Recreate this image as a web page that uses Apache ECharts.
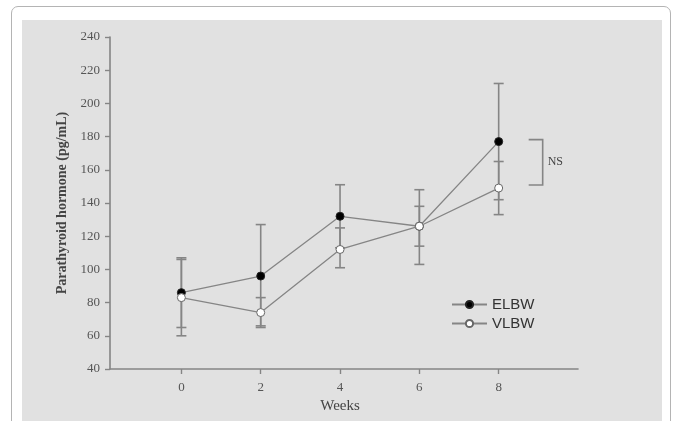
<!DOCTYPE html>
<html>
<head>
<meta charset="utf-8">
<script src="https://cdn.jsdelivr.net/npm/echarts@6/dist/echarts.min.js"></script>
<style>
  html, body { margin: 0; padding: 0; background: #ffffff; }
  #card {
    position: absolute; left: 11px; top: 6px; width: 660px; height: 440px;
    border: 1.5px solid #b4b4b4; border-radius: 7px; box-sizing: border-box;
  }
  #panel {
    position: absolute; left: 22px; top: 20px; width: 640px; height: 420px;
    background: #e1e1e1;
  }
  #chart { position: absolute; left: 0; top: 0; width: 675px; height: 421px; }
</style>
</head>
<body>
<div id="card"></div>
<div id="panel"></div>
<div id="chart"></div>
<script>
// Parathyroid hormone by week, mean with error bars, two birth-weight groups
const weeks = [0, 2, 4, 6, 8];
const xTicks = [0, 2, 4, 6, 8];

const elbwMean = [86, 96, 132, 126, 177];
const elbwLow  = [65, 65, 113, 103, 142];
const elbwHigh = [107, 127, 151, 148, 212];

const vlbwMean = [83, 74, 112, 126, 149];
const vlbwLow  = [60, 66, 101, 114, 133];
const vlbwHigh = [106, 83, 125, 138, 165];

const sigLabel = 'NS';

const serif = '"Liberation Serif", "Times New Roman", serif';
const sans = '"Liberation Sans", Arial, sans-serif';
const gray = '#858585';

function pairs(xs, ys) { return xs.map((x, i) => [x, ys[i]]); }
function bars(xs, lo, hi) { return xs.map((x, i) => [x, lo[i], hi[i]]); }

function errorBar(params, api) {
  const x = api.value(0);
  const top = api.coord([x, api.value(2)]);
  const bot = api.coord([x, api.value(1)]);
  const hw = 5;
  const style = { stroke: gray, lineWidth: 1.6 };
  return {
    type: 'group',
    children: [
      { type: 'line', shape: { x1: top[0], y1: top[1], x2: bot[0], y2: bot[1] }, style },
      { type: 'line', shape: { x1: top[0] - hw, y1: top[1], x2: top[0] + hw, y2: top[1] }, style },
      { type: 'line', shape: { x1: bot[0] - hw, y1: bot[1], x2: bot[0] + hw, y2: bot[1] }, style }
    ]
  };
}

// bracket between the two final means, with its label
function bracket(params, api) {
  const a = api.coord([api.value(0), api.value(1)]);
  const b = api.coord([api.value(0), api.value(2)]);
  const x1 = a[0] + 30, x2 = a[0] + 44;
  const y1 = a[1] - 2, y2 = b[1] - 3;
  return {
    type: 'group',
    children: [
      { type: 'polyline', shape: { points: [[x1, y1], [x2, y1], [x2, y2], [x1, y2]] },
        style: { stroke: gray, lineWidth: 1.6, fill: null } },
      { type: 'text', x: x2 + 5, y: (y1 + y2) / 2,
        style: { text: sigLabel, font: '12px ' + serif, fill: '#444',
                 verticalAlign: 'middle', align: 'left' } }
    ]
  };
}

const last = weeks.length - 1;

const chart = echarts.init(document.getElementById('chart'), null, { renderer: 'canvas' });
chart.setOption({
  backgroundColor: 'transparent',
  animation: false,
  grid: { left: 110, right: 97, top: 37, bottom: 52 },
  legend: {
    data: ['ELBW', 'VLBW'],
    orient: 'vertical',
    left: 446, top: 292,
    itemWidth: 35, itemHeight: 9, itemGap: 4,
    textStyle: { fontFamily: sans, fontSize: 15, color: '#333' }
  },
  xAxis: {
    type: 'value', min: -1.8, max: 10,
    name: 'Weeks', nameLocation: 'middle', nameGap: 27,
    nameTextStyle: { fontFamily: serif, fontSize: 15, color: '#444', padding: [0, 8, 0, 0] },
    splitLine: { show: false },
    axisLine: { onZero: false, lineStyle: { color: gray, width: 1.6 } },
    axisTick: { customValues: xTicks, length: 5, lineStyle: { color: gray, width: 1.4 } },
    axisLabel: { customValues: xTicks, margin: 12, fontFamily: serif, fontSize: 13, color: '#555' }
  },
  yAxis: {
    type: 'value', min: 40, max: 240, interval: 20,
    name: 'Parathyroid hormone (pg/mL)', nameLocation: 'middle', nameGap: 39,
    nameTextStyle: { fontFamily: serif, fontSize: 14, fontWeight: 'bold', color: '#444' },
    splitLine: { show: false },
    axisLine: { show: true, onZero: false, lineStyle: { color: gray, width: 1.6 } },
    axisTick: { show: true, length: 5, lineStyle: { color: gray, width: 1.4 } },
    axisLabel: { margin: 10, fontFamily: serif, fontSize: 13, color: '#555' }
  },
  series: [
    { name: 'ELBW-err', type: 'custom', renderItem: errorBar, data: bars(weeks, elbwLow, elbwHigh), z: 1, silent: true },
    { name: 'VLBW-err', type: 'custom', renderItem: errorBar, data: bars(weeks, vlbwLow, vlbwHigh), z: 1, silent: true },
    {
      name: 'ELBW', type: 'line', data: pairs(weeks, elbwMean), z: 3,
      symbol: 'circle', symbolSize: 8,
      lineStyle: { color: gray, width: 1.3 },
      itemStyle: { color: '#000', borderColor: '#222', borderWidth: 1 }
    },
    {
      name: 'VLBW', type: 'line', data: pairs(weeks, vlbwMean), z: 4,
      symbol: 'circle', symbolSize: 8,
      lineStyle: { color: gray, width: 1.3 },
      itemStyle: { color: '#fff', borderColor: '#666', borderWidth: 1 }
    },
    {
      name: 'bracket', type: 'custom', renderItem: bracket, silent: true, z: 2,
      data: [[weeks[last], elbwMean[last], vlbwMean[last]]]
    }
  ]
});
</script>
</body>
</html>
